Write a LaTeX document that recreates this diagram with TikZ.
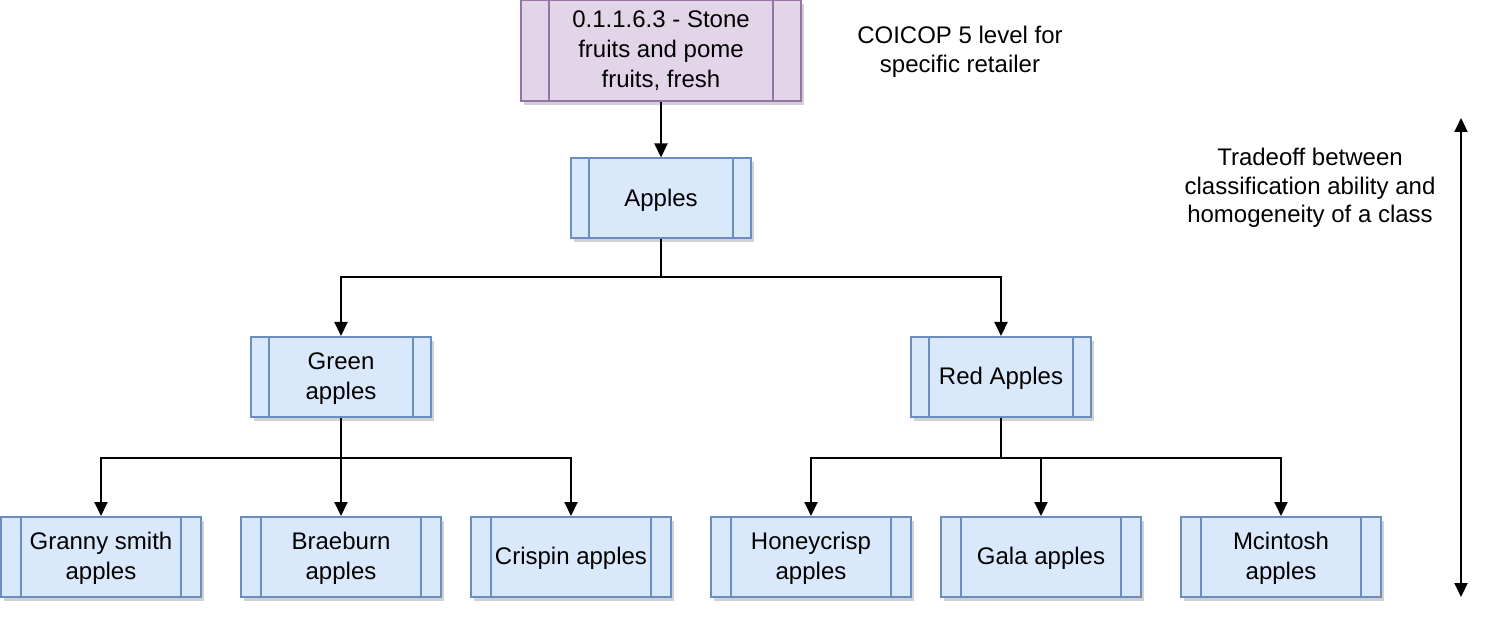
\documentclass[tikz,border=0pt]{standalone}
\usepackage{fontspec}
\setmainfont{Liberation Sans}
\usetikzlibrary{arrows.meta,shadows}
\definecolor{bfill}{HTML}{DAE8FC}
\definecolor{bdraw}{HTML}{6C8EBF}
\definecolor{pfill}{HTML}{E1D5E7}
\definecolor{pdraw}{HTML}{9673A6}
\tikzset{
  proc/.style={draw=bdraw, fill=bfill, line width=1pt, minimum width=90pt, minimum height=40pt,
    align=center, inner sep=0pt, font=\fontsize{12}{15}\selectfont, text depth=1pt,
    drop shadow={shadow xshift=1.5pt, shadow yshift=-1.8pt, opacity=0.18, fill=black},
    path picture={
      \draw[bdraw, line width=1pt] ([xshift=#1]path picture bounding box.north west) -- ([xshift=#1]path picture bounding box.south west);
      \draw[bdraw, line width=1pt] ([xshift=-#1]path picture bounding box.north east) -- ([xshift=-#1]path picture bounding box.south east);
    }},
  proc/.default=9pt,
  pproc/.style={proc=14pt, draw=pdraw, fill=pfill, minimum width=140pt, minimum height=50.5pt,
    path picture={
      \draw[pdraw, line width=1pt] ([xshift=14pt]path picture bounding box.north west) -- ([xshift=14pt]path picture bounding box.south west);
      \draw[pdraw, line width=1pt] ([xshift=-14pt]path picture bounding box.north east) -- ([xshift=-14pt]path picture bounding box.south east);
    }},
  leaf/.style={proc=10pt, minimum width=100pt},
  lbl/.style={align=center, font=\fontsize{12}{14.3}\selectfont, inner sep=0pt},
  conn/.style={line width=1pt, -{Triangle[length=7pt,width=6.5pt]}},
}
\begin{document}
\begin{tikzpicture}[x=0.5pt,y=-0.5pt]
\useasboundingbox (0,0) rectangle (1502,640);
\node[pproc] (top) at (661,50.5) {0.1.1.6.3 - Stone\\fruits and pome\\fruits, fresh};
\node[proc] (apples) at (661,198.5) {Apples};
\node[proc] (green) at (341,377) {Green\\apples};
\node[proc] (red) at (1001,377) {Red Apples};
\node[leaf] (granny) at (101,557) {Granny smith\\apples};
\node[leaf] (brae) at (341,557) {Braeburn\\apples};
\node[leaf] (crispin) at (571,557) {Crispin apples};
\node[leaf] (honey) at (811,557) {Honeycrisp\\apples};
\node[leaf] (gala) at (1041,557) {Gala apples};
\node[leaf] (mcin) at (1281,557) {Mcintosh\\apples};
\node[lbl] (coicop) at (960,52) {COICOP 5 level for\\specific retailer};
\node[lbl] (trade) at (1310,188) {Tradeoff between\\classification ability and\\homogeneity of a class};
\coordinate (aTop) at (1461,118);
\coordinate (aBot) at (1461,597);
\draw[conn] (top) -- (apples);
\draw[conn] (apples.south) -- ++(0,38) -| (green.north);
\draw[conn] (apples.south) -- ++(0,38) -| (red.north);
\draw[conn] (green.south) -- ++(0,40) -| (granny.north);
\draw[conn] (green.south) -- (brae.north);
\draw[conn] (green.south) -- ++(0,40) -| (crispin.north);
\draw[conn] (red.south) -- ++(0,40) -| (honey.north);
\draw[conn] (red.south) -- ++(0,40) -| (gala.north);
\draw[conn] (red.south) -- ++(0,40) -| (mcin.north);
\draw[line width=1pt, {Triangle[length=7pt,width=6.5pt]}-{Triangle[length=7pt,width=6.5pt]}] (aTop) -- (aBot);
\end{tikzpicture}
\end{document}
